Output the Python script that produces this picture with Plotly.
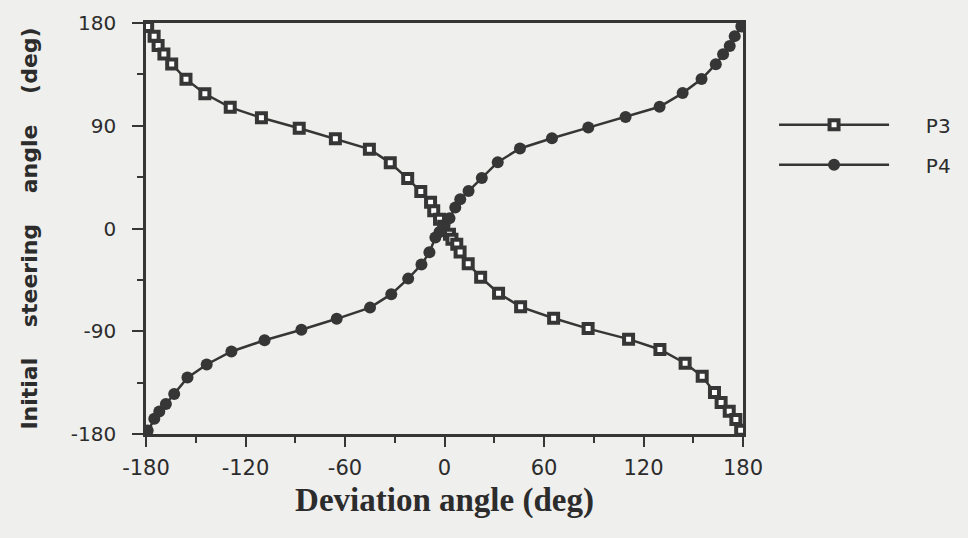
import plotly.graph_objects as go

# Deviation angle (deg) and initial steering angle (deg)
p3_x = [-179, -175.1, -172.7, -169.2, -164.5, -155.9, -144.5, -129.2, -110.4, -87.6,
        -65.8, -45.3, -32.7, -22.2, -14.3, -8.4, -6.5, -3, -0.5, 3, 4.5, 7.4, 9.4,
        14.3, 21.8, 32.6, 45.9, 65.8, 86.6, 111, 129.9, 145.1, 155.4, 162.8, 166.8,
        171.7, 175.7, 178.6]
p3_y = [177, 168.5, 160.3, 152.9, 144.1, 130.8, 118, 106.1, 97, 87.8,
        78.6, 69.5, 57.5, 43.7, 32.4, 22.9, 15.6, 8, 2, -5, -9.4, -13.8, -20.6,
        -30.9, -42.7, -56.7, -68.6, -78.6, -87.7, -96.9, -106, -118, -129.5, -143.7, -152.5,
        -160, -167.3, -176.8]

p4_x = [-179, -175, -172, -168, -163, -155, -143.4, -128.5, -108.5, -86.3,
        -65, -44.9, -32.1, -21.9, -13.9, -9.1, -5.5, -3, 0, 3, 6.5, 9.5,
        14.5, 22.5, 32.1, 45.5, 64.8, 86.7, 109.2, 129.7, 143.6, 155, 163.6,
        168, 172, 175, 179]
p4_y = [-177, -166.7, -160.3, -153.7, -145, -130.6, -119.1, -107.7, -97.9, -88.7,
        -79.1, -69.3, -57.5, -43.9, -31.6, -20.9, -7.8, -3, 3, 9, 18.3, 25.6,
        32.8, 44.3, 58.1, 70.1, 79.1, 88.4, 97.6, 106.6, 118.6, 130.9, 143.9,
        152.6, 159.8, 168.5, 177]

x_ticks = [-180, -120, -60, 0, 60, 120, 180]
y_ticks = [-180, -90, 0, 90, 180]
series_names = ["P3", "P4"]

INK = "#363636"
TXT = "#2c2c2c"
BG = "#efefed"
SANS = "DejaVu Sans, Arial, sans-serif"
PAD = "\u00a0" * 5

fig = go.Figure()
fig.add_trace(go.Scatter(
    x=p3_x, y=p3_y, mode="lines+markers", name=PAD + series_names[0],
    legendgroup="a",
    line=dict(color=INK, width=2.5),
    marker=dict(symbol="square", size=9, color="#ffffff",
                line=dict(color=INK, width=4)),
))
fig.add_trace(go.Scatter(
    x=p4_x, y=p4_y, mode="lines+markers", name=PAD + series_names[1],
    legendgroup="b",
    line=dict(color=INK, width=2.5),
    marker=dict(symbol="circle", size=12, color=INK,
                line=dict(color=INK, width=0)),
))

fig.update_layout(
    width=968, height=538,
    margin=dict(l=146, r=217, t=23, b=104),
    paper_bgcolor=BG, plot_bgcolor=BG,
    font=dict(family=SANS, color=TXT, size=20),
    showlegend=True,
    legend=dict(x=1.052, y=0.80, xanchor="left", yanchor="top",
                bgcolor="rgba(0,0,0,0)", itemwidth=110,
                font=dict(family=SANS, size=20, color=TXT),
                tracegroupgap=11),
)
fig.update_xaxes(
    range=[-180, 180], tickmode="array", tickvals=x_ticks,
    ticktext=[str(v) for v in x_ticks],
    showgrid=False, zeroline=False,
    showline=True, linecolor=INK, linewidth=2.5, mirror=True,
    ticks="outside", ticklen=10, tickwidth=2, tickcolor=INK,
    minor=dict(dtick=30, ticks="outside", ticklen=6, tickwidth=2, tickcolor=INK),
    tickfont=dict(family=SANS, size=21, color=TXT),
    ticklabelstandoff=3,
    title=dict(text="<b>Deviation angle (deg)</b>",
               font=dict(family="Liberation Serif, Times New Roman, serif", size=33, color=TXT),
               standoff=9),
)
fig.update_yaxes(
    range=[-180, 180], tickmode="array", tickvals=y_ticks,
    ticktext=[str(v) for v in y_ticks],
    showgrid=False, zeroline=False,
    showline=True, linecolor=INK, linewidth=2.5, mirror=True,
    ticks="outside", ticklen=11, tickwidth=2, tickcolor=INK,
    minor=dict(dtick=45, ticks="outside", ticklen=6, tickwidth=2, tickcolor=INK),
    tickfont=dict(family=SANS, size=20, color=TXT),
    ticklabelstandoff=12,
    title=dict(text="<b>Initial    steering    angle    (deg)</b>",
               font=dict(family=SANS, size=22, color=TXT),
               standoff=28),
)

fig.write_html("out.html", config={"displayModeBar": False},
               post_script="document.body.style.margin='0';")
